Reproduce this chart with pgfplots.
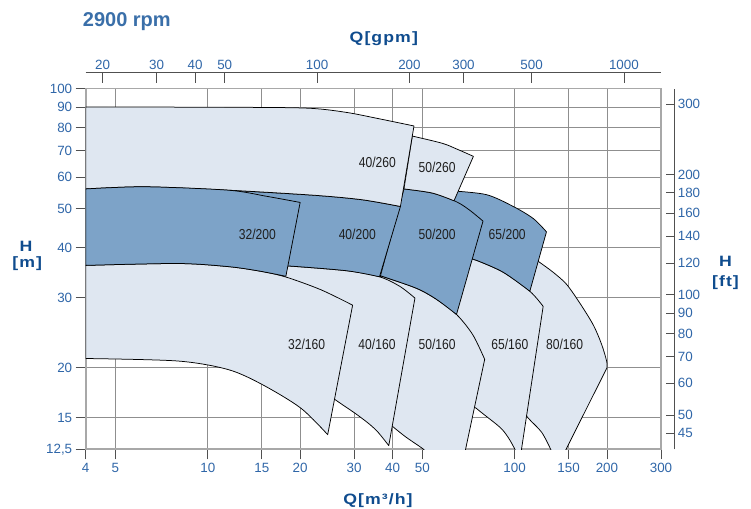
\documentclass[border=0pt]{standalone}
\usepackage{graphicx}
\usepackage{fontspec}
\setmainfont{Liberation Sans}
\usepackage{pgfplots}
\pgfplotsset{compat=1.18}
\usepgfplotslibrary{fillbetween}

\definecolor{tickblue}{HTML}{2F66A8}
\definecolor{titleblue}{HTML}{0F4C8E}
\definecolor{rpmblue}{HTML}{3A6FA9}
\definecolor{lightfill}{HTML}{DFE7F1}
\definecolor{darkfill}{HTML}{7DA3C8}
\definecolor{gridgray}{HTML}{8F8F8F}
\definecolor{framegray}{HTML}{A8A8A8}
\definecolor{axisdark}{HTML}{505050}

\pgfplotsset{
  cv/.style={draw=none, smooth, forget plot},
  shp/.style={fill=#1, draw=black, line width=0.75pt, line join=round},
}
\newcommand{\tfont}{\fontsize{13.4}{15}\selectfont}
\newcommand{\lfont}{\fontsize{14.4}{16}\selectfont}
\newcommand{\bfont}{\fontsize{15}{17}\selectfont\bfseries\addfontfeature{LetterSpace=6}}
\newcommand{\wide}[1]{\scalebox{1.18}[1]{#1}}
\newcommand{\lb}[1]{\scalebox{0.84}[1]{#1}}

\begin{document}
\begin{tikzpicture}

\begin{axis}[
  at={(85.7pt,58.7pt)}, anchor=south west,
  width=575.3pt, height=360.6pt, scale only axis,
  xmode=log, ymode=log,
  xmin=4, xmax=300, ymin=12.5, ymax=100,
  xtick={4,5,10,15,20,30,40,50,100,150,200,300},
  xticklabels={4,5,10,15,20,30,40,50,100,150,200,300},
  ytick={12.5,15,20,30,40,50,60,70,80,90,100},
  yticklabels={{12,5},15,20,30,40,50,60,70,80,90,100},
  xtick pos=left, ytick pos=left,
  tick align=outside, major tick length=10pt,
  grid=major,
  major grid style={draw=gridgray, line width=0.9pt},
  axis line style={draw=framegray, line width=1.6pt},
  major tick style={draw=axisdark, line width=0.8pt},
  tick label style={font=\tfont, text=tickblue},
  clip=true,
]
% 80/160
\addplot[cv, name path=t11] coordinates {(109.4,38.7) (120.3,36.8) (133.5,34.7) (147.5,32.4) (163.1,29.05) (180.5,25.6) (192.1,22.9) (199.5,20.8) (200,20.0)};
\addplot[cv, name path=b11] coordinates {(103.0,16.15) (110.8,14.96) (122.4,13.8) (131.1,12.5) (133.8,12.03) (142.1,11.85)};
\addplot[shp=lightfill] fill between[of=t11 and b11];
% 65/160
\addplot[cv, name path=t10] coordinates {(70.5,37.5) (74.9,37.2) (91.8,34.7) (112.1,31.1) (123.9,28.5)};
\addplot[cv, name path=b10] coordinates {(63.3,28.8) (69.4,16.9) (74.9,15.85) (89.5,14.2) (95.5,13.35) (100.2,12.5) (102.3,12.03) (104.2,11.85)};
\addplot[shp=lightfill] fill between[of=t10 and b10];
% 65/200
\addplot[cv, name path=t3] coordinates {(61.88,55.5) (80.8,54.3) (99.0,50.7) (115.0,47.3) (127.0,43.8)};
\addplot[cv, name path=b3] coordinates {(68.8,37.8) (74.9,37.2) (91.8,34.7) (112.1,31.1)};
\addplot[shp=darkfill] fill between[of=t3 and b3];
% 50/160
\addplot[cv, name path=t9] coordinates {(36.54,34.0) (47.56,31.7) (55.2,29.8) (64.66,27.2) (73.05,24.2) (79.9,21.0)};
\addplot[cv, name path=b9] coordinates {(37.14,14.98) (40.29,14.2) (44.31,13.4) (50.5,12.5) (53.6,11.97) (68.2,11.85)};
\addplot[shp=lightfill] fill between[of=t9 and b9];
% 50/200
\addplot[cv, name path=t4] coordinates {(43.58,56.1) (53.84,54.8) (64.3,52.2) (71.2,49.7) (78.9,46.6)};
\addplot[cv, name path=b4] coordinates {(36.54,34.0) (47.56,31.7) (55.2,29.8) (64.66,27.2)};
\addplot[shp=darkfill] fill between[of=t4 and b4];
% 50/260
\addplot[cv, name path=t2] coordinates {(46.4,76.1) (58.1,73.0) (65.1,70.5) (73.4,67.7)};
\addplot[cv, name path=b2] coordinates {(43.58,56.1) (53.84,54.8) (63.46,52.4)};
\addplot[shp=lightfill] fill between[of=t2 and b2];
% 40/160
\addplot[cv, name path=t8] coordinates {(17.19,36.0) (18.11,36.0) (28.37,35.0) (36.28,33.8) (42.23,32.0) (47.33,29.9)};
\addplot[cv, name path=b8] coordinates {(20.1,19.2) (25.84,16.7) (30.15,15.4) (33.46,14.5) (35.86,13.8) (38.9,12.77)};
\addplot[shp=lightfill] fill between[of=t8 and b8];
% 40/200
\addplot[cv, name path=t5] coordinates {(11.65,55.7) (22.17,54.1) (31.9,52.7) (42.45,50.7)};
\addplot[cv, name path=b5] coordinates {(15.88,36.0) (18.11,36.0) (28.37,35.0) (36.28,33.8)};
\addplot[shp=darkfill] fill between[of=t5 and b5];
% 40/260
\addplot[cv, name path=t1] coordinates {(4,90) (13.6,89.8) (21.64,89.3) (28.37,87.2) (35.86,84.2) (46.99,80.66)};
\addplot[cv, name path=b1] coordinates {(4,56.1) (6.22,56.8) (11.65,55.7) (22.17,54.1) (31.9,52.7) (42.45,50.7)};
\addplot[shp=lightfill] fill between[of=t1 and b1];
% 32/160
\addplot[cv, name path=t7] coordinates {(4,36.1) (7.98,36.5) (11.65,35.85) (14.69,34.95) (17.87,33.8) (23.3,31.4) (29.65,28.7)};
\addplot[cv, name path=b7] coordinates {(4,21.1) (7.98,20.8) (11.65,19.8) (15.07,18.15) (20.1,15.85) (24.59,13.6)};
\addplot[shp=lightfill] fill between[of=t7 and b7];
% 32/200
\addplot[cv, name path=t6] coordinates {(4,56.1) (6.22,56.8) (11.65,55.7) (15.48,53.8) (20,51.9)};
\addplot[cv, name path=b6] coordinates {(4,36.1) (7.98,36.5) (11.65,35.85) (14.69,34.95) (17.97,33.9)};
\addplot[shp=darkfill] fill between[of=t6 and b6];

\begin{scope}[every node/.style={font=\lfont, text=black!88}]
\node at (axis cs:35.7,65.5) {\lb{40/260}};
\node at (axis cs:55.9,63.4) {\lb{50/260}};
\node at (axis cs:14.5,43.2) {\lb{32/200}};
\node at (axis cs:30.7,43.2) {\lb{40/200}};
\node at (axis cs:55.9,43.2) {\lb{50/200}};
\node at (axis cs:94.6,43.2) {\lb{65/200}};
\node at (axis cs:21.0,22.9) {\lb{32/160}};
\node at (axis cs:35.6,22.9) {\lb{40/160}};
\node at (axis cs:55.9,22.9) {\lb{50/160}};
\node at (axis cs:96.5,22.9) {\lb{65/160}};
\node at (axis cs:145.6,22.9) {\lb{80/160}};
\end{scope}
\end{axis}

% top axis: Q [gpm]
\begin{axis}[
  at={(85.7pt,435.3pt)}, anchor=north west,
  width=575.3pt, height=20pt, scale only axis,
  xmode=log, xmin=17.612, xmax=1320.9, ymin=0, ymax=1,
  axis x line*=top, axis y line=none,
  xtick={20,30,40,50,100,200,300,500,1000},
  xticklabels={20,30,40,50,100,200,300,500,1000},
  tick align=inside, major tick length=10.6pt,
  x axis line style={draw=axisdark, line width=0.8pt, -},
  major tick style={draw=axisdark, line width=0.8pt},
  tick label style={font=\tfont, text=tickblue},
]
\addplot[draw=none, forget plot] coordinates {(20,0.5) (1000,0.5)};
\end{axis}

% right axis: H [ft]
\begin{axis}[
  at={(674.3pt,58.7pt)}, anchor=south east,
  width=20pt, height=360.6pt, scale only axis,
  ymode=log, ymin=41.01, ymax=328.08, xmin=0, xmax=1,
  axis y line*=right, axis x line=none,
  ytick={45,50,60,70,80,90,100,120,140,160,180,200,300},
  yticklabels={45,50,60,70,80,90,100,120,140,160,180,200,300},
  tick align=inside, major tick length=8pt,
  y axis line style={draw=axisdark, line width=0.8pt, -},
  major tick style={draw=axisdark, line width=0.8pt},
  tick label style={font=\tfont, text=tickblue},
]
\addplot[draw=none, forget plot] coordinates {(0.5,50) (0.5,300)};
\end{axis}

\node[anchor=base west, text=rpmblue, inner sep=0pt] at (82.7pt,481.3pt) {\fontsize{20}{22}\selectfont\bfseries 2900 rpm};
\node[anchor=base, text=titleblue, inner sep=0pt] at (383.8pt,465.3pt) {\bfont\wide{Q[gpm]}};
\node[anchor=base, text=titleblue, inner sep=0pt] at (26pt,256.7pt) {\bfont\wide{H}};
\node[anchor=base, text=titleblue, inner sep=0pt] at (27.3pt,240pt) {\bfont\wide{[m]}};
\node[anchor=base, text=titleblue, inner sep=0pt] at (725.5pt,241.3pt) {\bfont\wide{H}};
\node[anchor=base, text=titleblue, inner sep=0pt] at (725.5pt,221.2pt) {\bfont\wide{[ft]}};
\node[anchor=base, text=titleblue, inner sep=0pt] at (378pt,3.5pt) {\bfont\wide{Q[m³/h]}};

\pgfresetboundingbox
\path[use as bounding box] (0,0) rectangle (751pt,508pt);
\end{tikzpicture}
\end{document}
